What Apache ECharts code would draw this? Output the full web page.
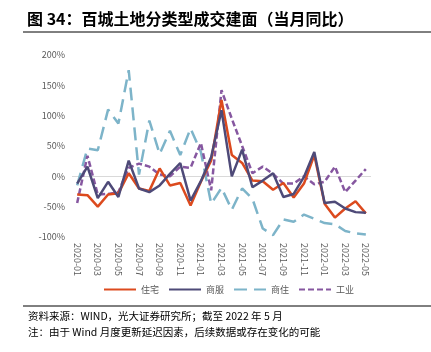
<!DOCTYPE html>
<html>
<head>
<meta charset="utf-8">
<script src="https://cdn.jsdelivr.net/npm/echarts@6/dist/echarts.min.js"></script>
<style>
  html, body { margin: 0; padding: 0; background: #fff; }
  #chart { width: 431px; height: 352px; }
</style>
</head>
<body>
<div id="chart"></div>
<script>
// 月份
const months = [
  '2020-01', '2020-02', '2020-03', '2020-04', '2020-05', '2020-06', '2020-07', '2020-08',
  '2020-09', '2020-10', '2020-11', '2020-12', '2021-01', '2021-02', '2021-03', '2021-04',
  '2021-05', '2021-06', '2021-07', '2021-08', '2021-09', '2021-10', '2021-11', '2021-12',
  '2022-01', '2022-02', '2022-03', '2022-04', '2022-05',
]
// 当月同比 (%)
const residential = [-30, -31, -50, -30, -28, 5, -20, -24, 13, -15, -11, -48, -9, 26, 126, 35, 22, -7, -8, -22, -11, -35, -12, 35, -45, -68, -53, -41, -61]
const commercial = [-12, 16, -36, -9, -34, 26, -20, -26, -15, 4, 22, -40, -8, 32, 109, 0, 44, -18, -7, 5, -34, -29, -1, 40, -44, -42, -53, -59, -60]
const mixedUse = [-15, 46, 43, 110, 87, 175, 3, 92, 37, 75, 35, 79, 40, -45, -19, -55, -20, -37, -86, -97, -71, -75, -63, -70, -77, -79, -90, -94, -96]
const industrial = [-44, 34, -30, -29, -26, 14, 21, 16, 3, 0, 16, 14, 55, -23, 142, 95, 50, 5, 16, 4, -12, -12, 0, -13, -9, 16, -26, -7, 12]
const seriesNames = ['住宅', '商服', '商住', '工业']

const font = 'Noto Sans CJK SC, Noto Sans, sans-serif'
const gray = '#595959'

const chart = echarts.init(document.getElementById('chart'))
chart.setOption({
  animation: false,
  textStyle: { fontFamily: font },
  title: [
    {
      text: '图 34：百城土地分类型成交建面（当月同比）',
      left: 22,
      top: 6,
      textStyle: { fontSize: 16, fontWeight: 'bold', color: '#000', fontFamily: font },
    },
    {
      text: '资料来源：WIND，光大证券研究所；截至 2022 年 5 月',
      left: 23,
      top: 306,
      textStyle: { fontSize: 10.5, fontWeight: 'normal', color: '#000', fontFamily: font },
    },
    {
      text: '注：由于 Wind 月度更新延迟因素，后续数据或存在变化的可能',
      left: 23,
      top: 322,
      textStyle: { fontSize: 10.5, fontWeight: 'normal', color: '#000', fontFamily: font },
    },
  ],
  graphic: [
    { type: 'line', shape: { x1: 23, y1: 32, x2: 431, y2: 32 }, style: { stroke: '#000', lineWidth: 1 } },
    { type: 'line', shape: { x1: 23, y1: 306, x2: 431, y2: 306 }, style: { stroke: '#000', lineWidth: 1 } },
  ],
  legend: {
    data: seriesNames,
    left: 98,
    top: 280,
    itemWidth: 32,
    itemHeight: 10,
    itemGap: 9,
    itemStyle: { opacity: 0 },
    lineStyle: { width: 2 },
    textStyle: { fontSize: 9, color: gray },
  },
  grid: {
    left: 72,
    right: 60,
    top: 55,
    bottom: 115,
  },
  xAxis: {
    type: 'category',
    data: months,
    boundaryGap: true,
    axisLine: { show: false, onZero: false },
    axisTick: { show: false },
    axisLabel: {
      interval: 1,
      rotate: -90,
      fontSize: 9,
      color: gray,
      margin: 6,
    },
  },
  yAxis: {
    type: 'value',
    min: -100,
    max: 200,
    interval: 50,
    axisLine: { show: false },
    axisTick: { show: false },
    splitLine: { show: false },
    axisLabel: {
      formatter: '{value}%',
      fontSize: 9,
      color: gray,
      margin: 7,
    },
  },
  series: [
    {
      name: seriesNames[0],
      type: 'line',
      data: residential,
      symbol: 'none',
      z: 4,
      itemStyle: { color: '#DC4A1E' },
      lineStyle: { width: 2.5, color: '#DC4A1E' },
      markLine: {
        silent: true,
        symbol: 'none',
        label: { show: false },
        lineStyle: { color: '#D9D9D9', width: 1, type: 'solid' },
        data: [{ yAxis: 0 }],
        z: 1,
      },
    },
    {
      name: seriesNames[1],
      type: 'line',
      data: commercial,
      symbol: 'none',
      z: 5,
      itemStyle: { color: '#4E4A78' },
      lineStyle: { width: 2.5, color: '#4E4A78' },
    },
    {
      name: seriesNames[2],
      type: 'line',
      data: mixedUse,
      symbol: 'none',
      z: 3,
      itemStyle: { color: '#7DB4C9' },
      lineStyle: { width: 2.5, color: '#7DB4C9', type: [13, 7] },
    },
    {
      name: seriesNames[3],
      type: 'line',
      data: industrial,
      symbol: 'none',
      z: 3,
      itemStyle: { color: '#8657A0' },
      lineStyle: { width: 2.5, color: '#8657A0', type: [6, 3] },
    },
  ],
})
</script>
</body>
</html>
